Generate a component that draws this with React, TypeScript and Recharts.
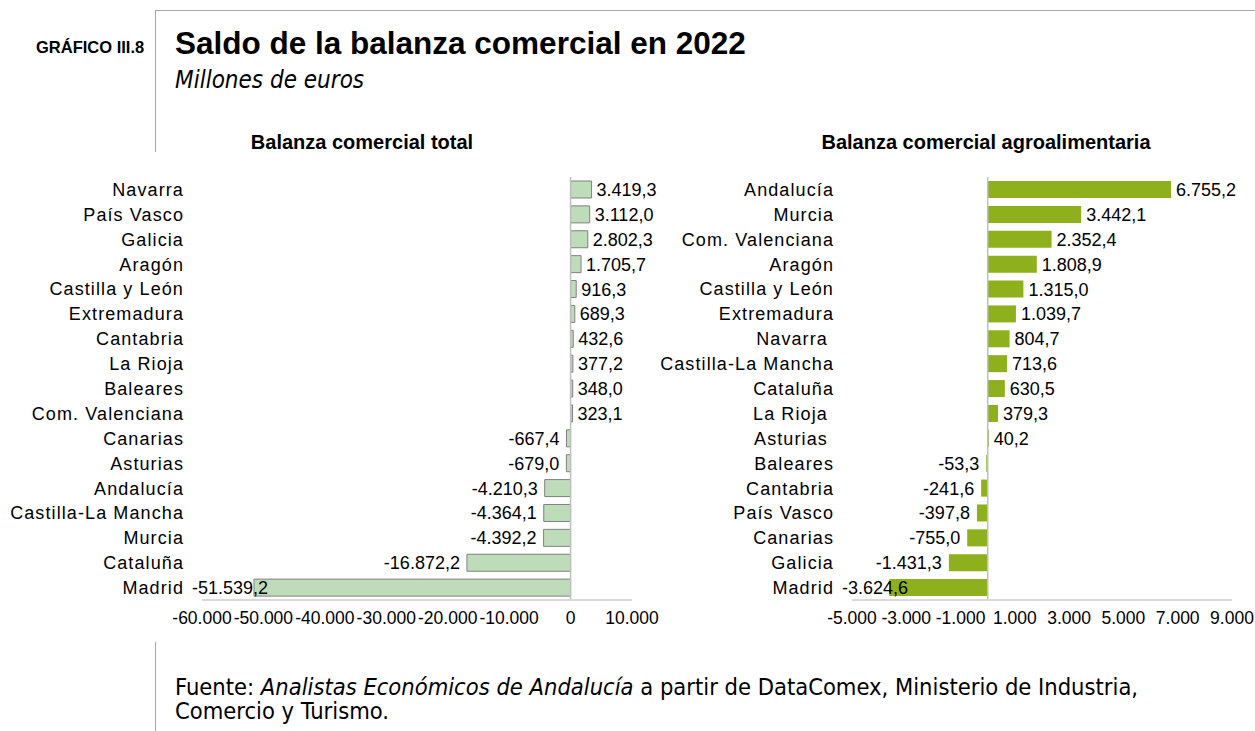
import React from 'react'
import { BarChart, Bar, XAxis, YAxis, ReferenceLine, LabelList } from 'recharts'

// Balanza comercial total (millones de euros)
const totalRegions = [
  'Navarra', 'País Vasco', 'Galicia', 'Aragón', 'Castilla y León', 'Extremadura',
  'Cantabria', 'La Rioja', 'Baleares', 'Com. Valenciana', 'Canarias', 'Asturias',
  'Andalucía', 'Castilla-La Mancha', 'Murcia', 'Cataluña', 'Madrid',
]
const totalValues = [
  3419.3, 3112.0, 2802.3, 1705.7, 916.3, 689.3, 432.6, 377.2, 348.0, 323.1,
  -667.4, -679.0, -4210.3, -4364.1, -4392.2, -16872.2, -51539.2,
]
const totalTicks = [-60000, -50000, -40000, -30000, -20000, -10000, 0, 10000]

// Balanza comercial agroalimentaria (millones de euros)
const agroRegions = [
  'Andalucía', 'Murcia', 'Com. Valenciana', 'Aragón', 'Castilla y León', 'Extremadura',
  'Navarra\u00a0', 'Castilla-La Mancha', 'Cataluña', 'La Rioja\u00a0', 'Asturias\u00a0', 'Baleares',
  'Cantabria', 'País Vasco', 'Canarias', 'Galicia', 'Madrid',
]
const agroValues = [
  6755.2, 3442.1, 2352.4, 1808.9, 1315.0, 1039.7, 804.7, 713.6, 630.5, 379.3,
  40.2, -53.3, -241.6, -397.8, -755.0, -1431.3, -3624.6,
]
const agroTicks = [-5000, -3000, -1000, 1000, 3000, 5000, 7000, 9000]

const FONT = '"Liberation Sans", Arial, sans-serif'
const TAHOMA = '"DejaVu Sans Condensed", "DejaVu Sans", sans-serif'
const LABEL_SIZE = 18

function fmt(v: number, decimals: number) {
  const fixed = Math.abs(v).toFixed(decimals)
  const [int, dec] = fixed.split('.')
  const grouped = int.replace(/\B(?=(\d{3})+(?!\d))/g, '.')
  return (v < 0 ? '-' : '') + grouped + (dec ? ',' + dec : '')
}

function textWidth(s: string, size: number) {
  let w = 0
  for (const ch of s) w += ch === '-' ? 0.333 : ch === '.' || ch === ',' ? 0.278 : 0.556
  return w * size
}

// minX is in the chart's own svg coordinates
const makeLabel = (minX: number) => (props: any) => {
  const { x, y, width, height, value } = props
  const left = Math.min(x, x + width)
  const right = Math.max(x, x + width)
  const text = fmt(value, 1)
  const common = { y: y + height / 2, dy: '0.36em', fontSize: LABEL_SIZE, fill: '#000', fontFamily: FONT }
  if (value >= 0) {
    return <text x={right + 5} textAnchor="start" {...common}>{text}</text>
  }
  const tx = left - 7
  if (tx - textWidth(text, LABEL_SIZE) < minX) {
    return <text x={minX} textAnchor="start" {...common}>{text}</text>
  }
  return <text x={tx} textAnchor="end" {...common}>{text}</text>
}

const CategoryTick = (props: any) => {
  const { x, y, payload } = props
  return (
    <text x={x} y={y} dy="0.36em" textAnchor="end" fontSize={18} letterSpacing={1.1} fill="#000" fontFamily={FONT}>
      {payload.value}
    </text>
  )
}

interface PanelProps {
  regions: string[]
  values: number[]
  ticks: number[]
  domain: [number, number]
  width: number
  axisWidth: number
  rightMargin: number
  fill: string
  stroke?: string
  labelMinX: number
}

function Panel({ regions, values, ticks, domain, width, axisWidth, rightMargin, fill, stroke, labelMinX }: PanelProps) {
  const data = regions.map((name, i) => ({ name, value: values[i] }))
  return (
    <BarChart
      layout="vertical"
      width={width}
      height={470}
      data={data}
      margin={{ top: 7, right: rightMargin, left: 0, bottom: 0 }}
      style={{ fontFamily: FONT }}
    >
      <XAxis
        type="number"
        domain={domain}
        ticks={ticks}
        interval={0}
        allowDataOverflow
        tickFormatter={(v: number) => fmt(v, 0)}
        axisLine={{ stroke: '#d9d9d9', strokeWidth: 2 }}
        tickLine={false}
        tickSize={0}
        tickMargin={12}
        height={40}
        tick={{ fontSize: 17.5, fill: '#000', fontFamily: FONT }}
      />
      <YAxis
        type="category"
        dataKey="name"
        width={axisWidth}
        axisLine={false}
        tickLine={false}
        tickSize={0}
        tickMargin={18}
        interval={0}
        tick={<CategoryTick />}
      />
      <Bar dataKey="value" fill={fill} stroke={stroke} strokeWidth={stroke ? 1 : 0} barSize={17} isAnimationActive={false}>
        <LabelList dataKey="value" content={makeLabel(labelMinX)} />
      </Bar>
      <ReferenceLine x={0} stroke="#bfbfbf" strokeWidth={1.5} />
    </BarChart>
  )
}

export default function App() {
  return (
    <div style={{ position: 'absolute', left: 0, top: 0, width: 1255, height: 731, background: '#fff', fontFamily: FONT, color: '#000' }}>
      <div style={{ position: 'absolute', left: 155, top: 10, width: 1100, height: 0, borderTop: '1px solid #a6a6a6' }} />
      <div style={{ position: 'absolute', left: 155, top: 10, width: 0, height: 142, borderLeft: '1px solid #a6a6a6' }} />
      <div style={{ position: 'absolute', left: 155, top: 642, width: 0, height: 89, borderLeft: '1px solid #a6a6a6' }} />

      <div style={{ position: 'absolute', left: 36, top: 39, fontSize: 16.5, fontWeight: 'bold', lineHeight: 1, whiteSpace: 'nowrap' }}>
        GRÁFICO III.8
      </div>
      <div style={{ position: 'absolute', left: 175, top: 28, fontSize: 31.5, fontWeight: 'bold', lineHeight: 1, whiteSpace: 'nowrap' }}>
        Saldo de la balanza comercial en 2022
      </div>
      <div style={{ position: 'absolute', left: 175, top: 68, fontSize: 24, fontStyle: 'italic', fontFamily: TAHOMA, lineHeight: 1, whiteSpace: 'nowrap' }}>
        Millones de euros
      </div>

      <div style={{ position: 'absolute', left: 162, top: 132, width: 400, textAlign: 'center', fontSize: 20, fontWeight: 'bold', lineHeight: 1, whiteSpace: 'nowrap' }}>
        Balanza comercial total
      </div>
      <div style={{ position: 'absolute', left: 786, top: 132, width: 400, textAlign: 'center', fontSize: 20, fontWeight: 'bold', lineHeight: 1, whiteSpace: 'nowrap' }}>
        Balanza comercial agroalimentaria
      </div>

      <div style={{ position: 'absolute', left: 0, top: 170 }}>
        <Panel
          regions={totalRegions}
          values={totalValues}
          ticks={totalTicks}
          domain={[-60000, 10000]}
          width={660}
          axisWidth={202}
          rightMargin={28}
          fill="#bfdcba"
          stroke="#808080"
          labelMinX={192}
        />
      </div>
      <div style={{ position: 'absolute', left: 640, top: 170 }}>
        <Panel
          regions={agroRegions}
          values={agroValues}
          ticks={agroTicks}
          domain={[-5000, 9000]}
          width={615}
          axisWidth={212}
          rightMargin={23}
          fill="#8db01c"
          labelMinX={202}
        />
      </div>

      <div style={{ position: 'absolute', left: 175, top: 675, fontSize: 23.5, fontFamily: TAHOMA, lineHeight: '24px', width: 1075, whiteSpace: 'nowrap' }}>
        Fuente: <i>Analistas Económicos de Andalucía</i> a partir de DataComex, Ministerio de Industria,
        <br />
        Comercio y Turismo.
      </div>
    </div>
  )
}
